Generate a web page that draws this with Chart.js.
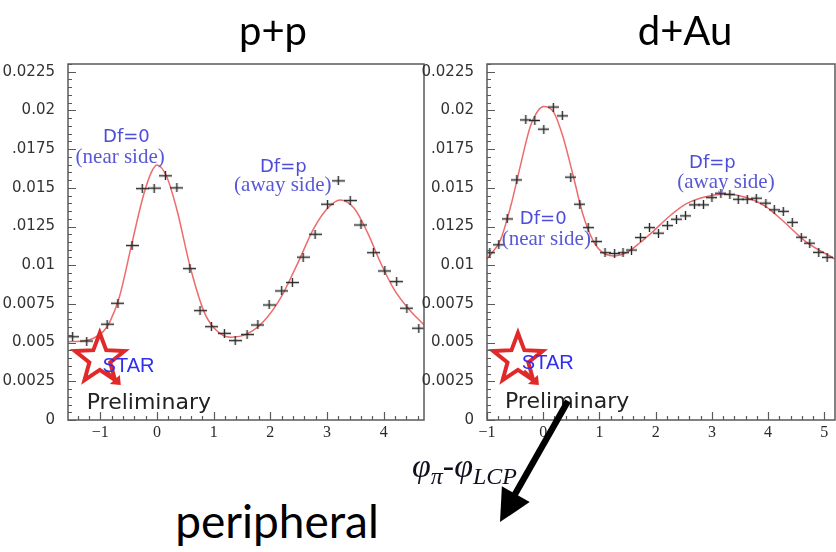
<!DOCTYPE html>
<html><head><meta charset="utf-8">
<script src="https://cdn.jsdelivr.net/npm/chart.js@4/dist/chart.umd.min.js"></script>
<style>
html,body{margin:0;padding:0;background:#fff;width:836px;height:552px;overflow:hidden;position:relative}
canvas{position:absolute}
#c1{left:0;top:50px}
#c2{left:419px;top:50px}
.t{position:absolute;white-space:nowrap;line-height:1;color:#000}
#ov{position:absolute;left:0;top:0;z-index:5}
</style></head><body>
<canvas id="c1" width="432" height="400"></canvas>
<canvas id="c2" width="422" height="400"></canvas>
<div class="t" id="tpp" style="left:273px;top:6px;font:40px Lato,sans-serif;transform:translateX(-50%)">p+p</div>
<div class="t" id="tda" style="left:685px;top:6px;font:40px Lato,sans-serif;transform:translateX(-50%)">d+Au</div>
<div class="t" id="tper" style="left:277px;top:493px;font:46px Lato,sans-serif;transform:translateX(-50%)">peripheral</div>
<div class="t" id="tphi" style="left:412px;top:447px;font:italic 34px 'Liberation Serif',serif;color:#101020;z-index:6">φ<span style="font-size:24px;position:relative;top:7px">π</span>-φ<span style="font-size:24px;position:relative;top:7px">LCP</span></div>
<svg id="ov" width="836" height="552">
  <line x1="568" y1="401" x2="514" y2="496" stroke="#000" stroke-width="6.5"/>
  <polygon points="500,522 501.9,486.3 529.7,502.1" fill="#000"/>
</svg>
<script>
// ---------------- data ----------------
// p+p : measured points
const ppX = [-1.49,-1.24,-0.88,-0.69,-0.44,-0.26,-0.05,0.15,0.35,0.58,0.76,0.96,1.19,1.38,1.59,1.78,1.98,2.20,2.39,2.58,2.79,3.01,3.20,3.41,3.60,3.82,4.02,4.23,4.41,4.62];
const ppY = [0.00538,0.00510,0.00619,0.00754,0.01127,0.01495,0.01498,0.01578,0.01500,0.00978,0.00707,0.00603,0.00560,0.00513,0.00552,0.00614,0.00743,0.00834,0.00888,0.01052,0.01200,0.01394,0.01545,0.01418,0.01260,0.01081,0.00963,0.00894,0.00722,0.00593];
// p+p : fit curve
const ppFitX = [-1.5708,-1.30,-1.12,-0.95,-0.83,-0.66,-0.45,-0.24,-0.10,0.00,0.17,0.35,0.585,0.83,1.01,1.30,1.59,1.88,2.18,2.47,2.77,3.01,3.23,3.48,3.72,3.95,4.19,4.43,4.7124];
const ppFitY = [0.00506,0.00510,0.00528,0.00571,0.00636,0.00800,0.01130,0.01450,0.01600,0.01648,0.01573,0.01360,0.00990,0.00700,0.00593,0.00535,0.00556,0.00636,0.00787,0.01002,0.01239,0.01368,0.01422,0.01368,0.01207,0.01013,0.00840,0.00722,0.00614];
// d+Au : measured points
const daX = [-0.95,-0.79,-0.64,-0.47,-0.31,-0.15,0.01,0.18,0.34,0.49,0.65,0.80,0.94,1.10,1.27,1.42,1.57,1.73,1.89,2.05,2.21,2.37,2.53,2.69,2.85,3.00,3.16,3.32,3.47,3.63,3.79,3.96,4.11,4.27,4.43,4.59,4.74,4.90,5.05];
const daY = [0.01081,0.01132,0.01299,0.01551,0.01939,0.01935,0.01879,0.02022,0.01965,0.01569,0.01394,0.01243,0.01153,0.01081,0.01076,0.01081,0.01098,0.01179,0.01243,0.01207,0.01256,0.01297,0.01319,0.01390,0.01390,0.01437,0.01465,0.01458,0.01426,0.01426,0.01433,0.01401,0.01358,0.01348,0.01277,0.01181,0.01142,0.01083,0.01051];
// d+Au : fit curve
const daFitX = [-1.00,-0.76,-0.58,-0.41,-0.23,-0.08,0.01,0.18,0.35,0.53,0.70,0.88,1.06,1.27,1.48,1.71,1.95,2.24,2.54,2.89,3.25,3.60,3.96,4.31,4.67,5.19];
const daFitY = [0.01040,0.01164,0.01379,0.01637,0.01896,0.02004,0.02026,0.01992,0.01832,0.01583,0.01336,0.01164,0.01081,0.01060,0.01081,0.01142,0.01217,0.01315,0.01396,0.01443,0.01458,0.01439,0.01379,0.01271,0.01153,0.01040];
// axes
const yTickValues = [0,0.0025,0.005,0.0075,0.01,0.0125,0.015,0.0175,0.02,0.0225];
const yTickLabels = ["0","0.0025","0.005","0.0075","0.01",".0125","0.015",".0175","0.02","0.0225"];
const ppXTicks = [-1,0,1,2,3,4];
const ppXLabels = ["\u22121","0","1","2","3","4"];
const daXTicks = [-1,0,1,2,3,4,5];
const daXLabels = ["\u22121","0","1","2","3","4","5"];

// ---------------- helpers ----------------
function crossImg(w,h){
  const c=document.createElement('canvas');c.width=w;c.height=h;
  const g=c.getContext('2d');g.strokeStyle='#2a2a2a';g.lineWidth=1.4;
  g.beginPath();g.moveTo(0,h/2);g.lineTo(w,h/2);g.moveTo(w/2,0);g.lineTo(w/2,h);g.stroke();
  return c;
}
function drawStar(ctx,cx,cy,R){
  const r=R*0.42;
  ctx.beginPath();
  for(let i=0;i<10;i++){
    const a=-Math.PI/2+i*Math.PI/5, rr=(i%2===0)?R:r;
    const px=cx+rr*Math.cos(a), py=cy+rr*Math.sin(a);
    if(i===0)ctx.moveTo(px,py);else ctx.lineTo(px,py);
  }
  ctx.closePath();
  ctx.strokeStyle='#e02a2a';ctx.lineWidth=4;ctx.lineJoin='miter';ctx.stroke();
  ctx.beginPath();ctx.moveTo(cx+6,cy+12);ctx.lineTo(cx+19,cy+24);ctx.lineWidth=3.5;ctx.stroke();
  ctx.beginPath();ctx.moveTo(cx+21,cy+26);ctx.lineTo(cx+10,cy+25);ctx.lineTo(cx+20,cy+16);ctx.closePath();
  ctx.fillStyle='#e02a2a';ctx.fill();
}
const frameTicks={
  id:'frameTicks',
  afterDatasetsDraw(chart){
    const {ctx,chartArea:a,scales:{x,y}}=chart;
    ctx.save();
    ctx.strokeStyle='#5a5a5a';ctx.lineWidth=1.5;
    ctx.strokeRect(a.left,a.top,a.right-a.left,a.bottom-a.top);
    ctx.lineWidth=1.2;ctx.beginPath();
    for(let k=0;k*0.0005<=y.max+1e-9;k++){
      const py=Math.round(y.getPixelForValue(k*0.0005))+0.5;
      const L=(k%5===0)?8:4;
      ctx.moveTo(a.left,py);ctx.lineTo(a.left+L,py);
    }
    for(let k=Math.ceil(x.min/0.2-1e-9);k*0.2<=x.max+1e-9;k++){
      const px=Math.round(x.getPixelForValue(k*0.2))+0.5;
      const L=(k%5===0)?8:4;
      ctx.moveTo(px,a.bottom);ctx.lineTo(px,a.bottom-L);
    }
    ctx.stroke();ctx.restore();
  }
};
const annot={
  id:'annot',
  afterDatasetsDraw(chart,args,o){
    const {ctx,scales:{x,y}}=chart;
    ctx.save();
    drawStar(ctx,x.getPixelForValue(o.star[0]),y.getPixelForValue(o.star[1]),26);
    for(const t of o.texts){
      ctx.font=t.font;ctx.fillStyle=t.color;ctx.textAlign=t.align||'center';ctx.textBaseline='middle';
      ctx.fillText(t.text,x.getPixelForValue(t.x),y.getPixelForValue(t.y));
    }
    ctx.restore();
  }
};
const BLUE='#4d4dd8', SANS='"DejaVu Sans",sans-serif', SERIF='"Liberation Serif",serif';
function makeChart(id,cfg){
  return new Chart(document.getElementById(id),{
    type:'scatter',
    data:{datasets:[
      {data:cfg.px.map((v,i)=>({x:v,y:cfg.py[i]})),pointStyle:crossImg(cfg.cw,9),pointRadius:5,showLine:false,order:0},
      {data:cfg.fx.map((v,i)=>({x:v,y:cfg.fy[i]})),showLine:true,pointRadius:0,borderColor:'#ee6b6b',borderWidth:1.5,cubicInterpolationMode:'monotone',order:1}
    ]},
    options:{
      responsive:false,animation:false,events:[],
      layout:{padding:{top:14,right:cfg.padR,left:0,bottom:0}},
      plugins:{legend:{display:false},tooltip:{enabled:false},annot:cfg.annot},
      scales:{
        x:{type:'linear',min:cfg.xmin,max:cfg.xmax,
          afterBuildTicks:s=>{s.ticks=cfg.xt.map(v=>({value:v}));},
          afterFit:s=>{s.height=30;s.paddingLeft=0;s.paddingRight=0;},
          grid:{display:false},border:{display:false},
          ticks:{autoSkip:false,maxRotation:0,padding:-5,color:'#2a2a2a',font:{family:'Liberation Serif',size:16},callback:(v,i)=>cfg.xl[i]}},
        y:{type:'linear',min:0,max:0.0230,
          afterBuildTicks:s=>{s.ticks=yTickValues.map(v=>({value:v}));},
          afterFit:s=>{s.width=68;s.paddingTop=0;s.paddingBottom=0;},
          grid:{display:false},border:{display:false},
          ticks:{autoSkip:false,padding:5,color:'#333',font:{family:'DejaVu Sans',size:15},callback:(v,i)=>yTickLabels[i]}}
      }
    },
    plugins:[annot,frameTicks]
  });
}
makeChart('c1',{px:ppX,py:ppY,fx:ppFitX,fy:ppFitY,cw:13,padR:8,xmin:-1.5708,xmax:4.7124,xt:ppXTicks,xl:ppXLabels,
  annot:{star:[-1.01,0.00394],texts:[
    {text:'Df=0',x:-0.54,y:0.01829,font:'18px '+SANS,color:BLUE},
    {text:'(near side)',x:-0.65,y:0.01694,font:'21px '+SERIF,color:'#5858d6'},
    {text:'Df=p',x:2.23,y:0.01635,font:'18px '+SANS,color:BLUE},
    {text:'(away side)',x:2.22,y:0.01513,font:'21px '+SERIF,color:'#5858d6'},
    {text:'STAR',x:-0.96,y:0.00343,font:'20px "Liberation Sans",sans-serif',color:'#2f2ff0',align:'left'},
    {text:'Preliminary',x:-1.24,y:0.00110,font:'22px '+SANS,color:'#222',align:'left'}
  ]}});
makeChart('c2',{px:daX,py:daY,fx:daFitX,fy:daFitY,cw:11,padR:0,xmin:-1,xmax:5.19,xt:daXTicks,xl:daXLabels,
  annot:{star:[-0.45,0.00394],texts:[
    {text:'Df=0',x:0.0,y:0.01299,font:'18px '+SANS,color:BLUE},
    {text:'(near side)',x:0.055,y:0.01164,font:'21px '+SERIF,color:'#5858d6'},
    {text:'Df=p',x:3.01,y:0.01661,font:'18px '+SANS,color:BLUE},
    {text:'(away side)',x:3.25,y:0.01532,font:'21px '+SERIF,color:'#5858d6'},
    {text:'STAR',x:-0.38,y:0.00362,font:'20px "Liberation Sans",sans-serif',color:'#2f2ff0',align:'left'},
    {text:'Preliminary',x:-0.68,y:0.00116,font:'22px '+SANS,color:'#222',align:'left'}
  ]}});
</script>
</body></html>
